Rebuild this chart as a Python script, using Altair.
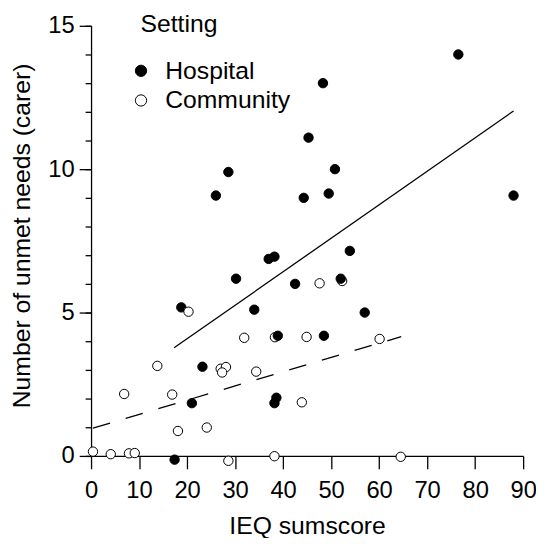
import altair as alt
import pandas as pd

# ---- data ----
HOSP_X = [76.5, 48.3, 45.3, 50.8, 28.6, 26.0, 44.3, 49.5, 88.0, 53.9, 37.0, 38.2, 30.2,
          42.5, 52.0, 18.8, 34.0, 57.0, 38.9, 48.5, 23.2, 21.0, 38.6, 38.2, 17.4]
HOSP_Y = [14.0, 13.0, 11.1, 10.0, 9.9, 9.08, 9.0, 9.15, 9.08, 7.15, 6.87, 6.95, 6.18,
          6.0, 6.18, 5.18, 5.1, 5.0, 4.19, 4.19, 3.11, 1.84, 2.03, 1.84, -0.13]

COMM_X = [52.3, 38.3, 47.6, 20.3, 31.9, 44.9, 60.1, 13.8, 27.0, 28.1, 27.3, 34.4,
          6.9, 16.9, 43.9, 18.1, 24.1, 0.4, 4.1, 7.9, 9.1, 28.6, 38.2, 64.5]
COMM_Y = [6.1, 4.14, 6.02, 5.03, 4.12, 4.15, 4.08, 3.14, 3.04, 3.10, 2.91, 2.94,
          2.16, 2.14, 1.87, 0.87, 0.99, 0.15, 0.06, 0.09, 0.1, -0.17, -0.01, -0.03]

# fitted lines (end points)
HOSP_FIT_X = [17.3, 88.0]
HOSP_FIT_Y = [3.77, 12.03]
COMM_FIT_X = [0.4, 64.6]
COMM_FIT_Y = [0.97, 4.16]

SETTINGS = ["Hospital", "Community"]
X_TICKS = [0, 10, 20, 30, 40, 50, 60, 70, 80, 90]
Y_MAJOR = [0, 5, 10, 15]
Y_MINOR = list(range(0, 16))

FONT = "Liberation Sans"

# drawing order: two community points under the hospital points, rest on top
rows = []
k = 0
for x, y in zip(COMM_X[:2], COMM_Y[:2]):
    rows.append({"ieq": x, "needs": y, "setting": "Community", "draw": k}); k += 1
for x, y in zip(HOSP_X, HOSP_Y):
    rows.append({"ieq": x, "needs": y, "setting": "Hospital", "draw": k}); k += 1
for x, y in zip(COMM_X[2:], COMM_Y[2:]):
    rows.append({"ieq": x, "needs": y, "setting": "Community", "draw": k}); k += 1
pts = pd.DataFrame(rows)

hosp_fit = pd.DataFrame({"ieq": HOSP_FIT_X, "needs": HOSP_FIT_Y})
comm_fit = pd.DataFrame({"ieq": COMM_FIT_X, "needs": COMM_FIT_Y})

xscale = alt.Scale(domain=[0, 90], nice=False, zero=False)
yscale = alt.Scale(domain=[0, 15], nice=False, zero=False)

x_axis = alt.Axis(values=X_TICKS, tickSize=13, labelFontSize=24, labelPadding=10,
                  title="IEQ sumscore", titleFontSize=25, titlePadding=11,
                  labelFlush=False, labelOverlap=False, grid=False)
y_axis = alt.Axis(orient="left", values=Y_MAJOR, tickSize=12,
                  labelFontSize=24, labelPadding=5,
                  title="Number of unmet needs (carer)", titleFontSize=25,
                  titleX=-62, titleY=212, titleBaseline="alphabetic",
                  labelFlush=False, labelOverlap=False, grid=False)
y_minor = alt.Axis(orient="left", values=Y_MINOR, tickSize=6, labels=False, domain=False,
                   title=None, grid=False)

points = alt.Chart(pts).mark_point(
    filled=True, shape="circle", size=90, stroke="black", strokeWidth=1, opacity=1
).encode(
    x=alt.X("ieq:Q", scale=xscale, axis=x_axis),
    y=alt.Y("needs:Q", scale=yscale, axis=y_axis),
    fill=alt.Fill("setting:N",
                  scale=alt.Scale(domain=SETTINGS, range=["black", "white"]),
                  legend=alt.Legend(title="Setting", orient="none", legendX=50, legendY=-14,
                                    titleFontSize=25, labelFontSize=25, titleFontWeight="normal",
                                    symbolType="circle", symbolSize=130,
                                    symbolStrokeColor="black", symbolStrokeWidth=1,
                                    symbolOffset=-12,
                                    rowPadding=4, titlePadding=22, labelOffset=12,
                                    titleColor="black", labelColor="black")),
    order=alt.Order("draw:Q"),
)

line_h = alt.Chart(hosp_fit).mark_line(color="black", strokeWidth=1.3).encode(
    x=alt.X("ieq:Q", scale=xscale), y=alt.Y("needs:Q", scale=yscale, axis=y_minor))
line_c = alt.Chart(comm_fit).mark_line(color="black", strokeWidth=1.3, strokeDash=[18, 16.5]).encode(
    x=alt.X("ieq:Q", scale=xscale), y=alt.Y("needs:Q", scale=yscale, axis=None))

chart = alt.layer(line_h, line_c, points).resolve_axis(y="independent").properties(
    width=437, height=435,
    autosize=alt.AutoSizeParams(type="none"),
    padding={"left": 84, "top": 15, "right": 13, "bottom": 80},
).configure_view(stroke=None).configure_axis(
    domainColor="black", tickColor="black", domainWidth=1.3, tickWidth=1.3,
    labelColor="black", titleColor="black", labelFont=FONT, titleFont=FONT,
    titleFontWeight="normal",
).configure_legend(labelFont=FONT, titleFont=FONT)

chart.save("out.html", embed_options={"renderer": "svg", "actions": False})
